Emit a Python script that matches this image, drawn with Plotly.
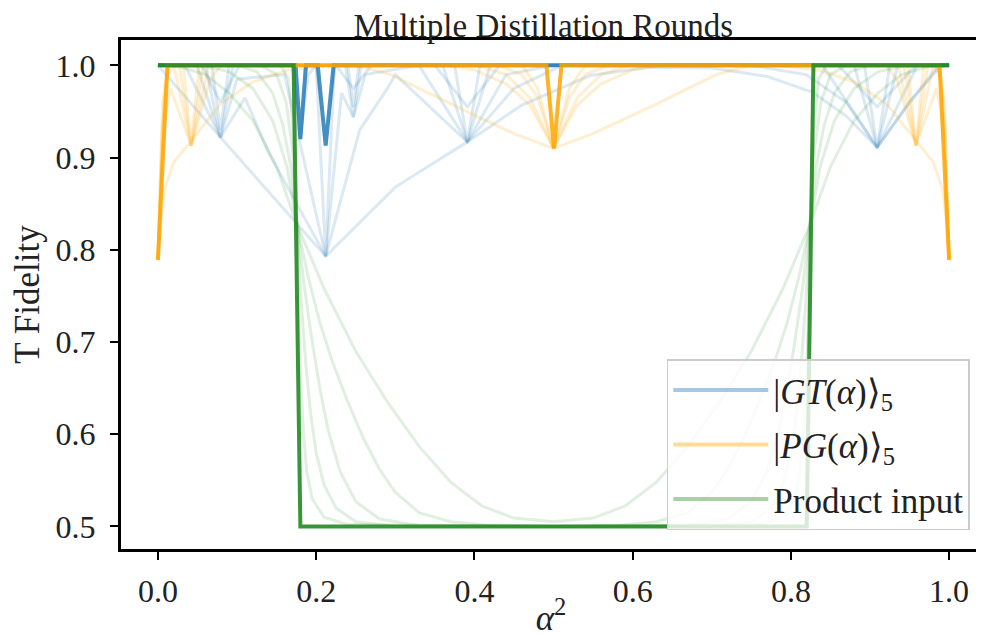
import plotly.graph_objects as go

# ---------------- data ----------------
# Product input (green), faded intermediate rounds
g1_x = [0, 0.03, 0.06, 0.09, 0.12, 0.15, 0.176, 0.21, 0.25, 0.29, 0.33, 0.37, 0.41, 0.45, 0.5,
        0.55, 0.59, 0.63, 0.67, 0.71, 0.75, 0.79, 0.824, 0.85, 0.88, 0.91, 0.94, 0.97, 1.0]
g1_y = [1.0, 0.998, 0.99, 0.97, 0.94, 0.89, 0.827, 0.758, 0.69, 0.635, 0.587, 0.548, 0.522, 0.509, 0.505,
        0.509, 0.522, 0.548, 0.587, 0.635, 0.69, 0.758, 0.827, 0.89, 0.94, 0.97, 0.99, 0.998, 1.0]
g2_x = [0, 0.06, 0.09, 0.12, 0.145, 0.163, 0.176, 0.19, 0.205, 0.22, 0.24, 0.26, 0.28, 0.30, 0.33, 0.37, 0.42, 0.5,
        0.58, 0.63, 0.67, 0.70, 0.72, 0.74, 0.76, 0.78, 0.795, 0.81, 0.824, 0.837, 0.855, 0.88, 0.91, 0.94, 1.0]
g2_y = [1.0, 0.999, 0.993, 0.975, 0.94, 0.89, 0.827, 0.77, 0.72, 0.68, 0.635, 0.595, 0.562, 0.537, 0.515, 0.505, 0.501, 0.5,
        0.501, 0.505, 0.515, 0.537, 0.562, 0.595, 0.635, 0.68, 0.72, 0.77, 0.827, 0.89, 0.94, 0.975, 0.993, 0.999, 1.0]
g3_x = [0, 0.1, 0.125, 0.145, 0.158, 0.168, 0.176, 0.185, 0.195, 0.205, 0.215, 0.23, 0.25, 0.28, 0.33, 0.5,
        0.67, 0.72, 0.75, 0.77, 0.785, 0.795, 0.805, 0.815, 0.824, 0.832, 0.842, 0.855, 0.875, 0.9, 1.0]
g3_y = [1.0, 1.0, 0.993, 0.97, 0.935, 0.89, 0.827, 0.76, 0.70, 0.648, 0.605, 0.56, 0.527, 0.508, 0.501, 0.5,
        0.501, 0.508, 0.527, 0.56, 0.605, 0.648, 0.70, 0.76, 0.827, 0.89, 0.935, 0.97, 0.993, 1.0, 1.0]
g4_x = [0, 0.13, 0.15, 0.162, 0.17, 0.176, 0.181, 0.187, 0.193, 0.2, 0.21, 0.225, 0.25, 0.3, 0.5,
        0.7, 0.75, 0.775, 0.79, 0.8, 0.807, 0.813, 0.819, 0.824, 0.83, 0.838, 0.85, 0.87, 1.0]
g4_y = [1.0, 1.0, 0.99, 0.96, 0.91, 0.827, 0.745, 0.675, 0.622, 0.58, 0.545, 0.52, 0.505, 0.5, 0.5,
        0.5, 0.505, 0.52, 0.545, 0.58, 0.622, 0.675, 0.745, 0.827, 0.91, 0.96, 0.99, 1.0, 1.0]
g5_x = [0, 0.155, 0.165, 0.171, 0.176, 0.178, 0.181, 0.184, 0.188, 0.195, 0.21, 0.24, 0.5,
        0.76, 0.79, 0.805, 0.812, 0.816, 0.819, 0.822, 0.824, 0.829, 0.835, 0.845, 1.0]
g5_y = [1.0, 1.0, 0.985, 0.93, 0.827, 0.72, 0.65, 0.6, 0.56, 0.53, 0.51, 0.502, 0.5,
        0.502, 0.51, 0.53, 0.56, 0.6, 0.65, 0.72, 0.827, 0.93, 0.985, 1.0, 1.0]
g_final_x = [0, 0.1715, 0.180, 0.820, 0.8285, 1.0]
g_final_y = [1.0, 1.0, 0.5, 0.5, 1.0, 1.0]

# |PG(alpha)>_5 (orange)
o0_x = [0, 0.004, 0.008, 0.02, 0.042, 0.079, 0.12, 0.164, 0.22, 0.26, 0.294, 0.33, 0.37, 0.41, 0.45, 0.5,
        0.55, 0.59, 0.63, 0.67, 0.706, 0.74, 0.78, 0.836, 0.88, 0.921, 0.958, 0.98, 0.992, 0.996, 1.0]
o0_y = [0.789, 0.835, 0.865, 0.895, 0.918, 0.958, 0.982, 0.995, 1.0, 0.998, 0.99, 0.975, 0.958, 0.942, 0.926, 0.91,
        0.926, 0.942, 0.958, 0.975, 0.99, 0.998, 1.0, 0.995, 0.982, 0.958, 0.918, 0.895, 0.865, 0.835, 0.789]
o1_x = [0, 0.005, 0.01, 0.016, 0.042, 0.066, 0.08, 0.3, 0.362, 0.4, 0.44, 0.47, 0.5,
        0.53, 0.56, 0.6, 0.638, 0.7, 0.92, 0.934, 0.958, 0.984, 0.99, 0.995, 1.0]
o1_y = [0.789, 0.9, 0.95, 0.975, 0.913, 0.985, 1.0, 1.0, 1.0, 0.995, 0.98, 0.957, 0.91,
        0.957, 0.98, 0.995, 1.0, 1.0, 1.0, 0.985, 0.913, 0.975, 0.95, 0.9, 0.789]
o2_x = [0, 0.005, 0.012, 0.02, 0.042, 0.064, 0.2, 0.403, 0.44, 0.47, 0.5,
        0.53, 0.56, 0.597, 0.8, 0.936, 0.958, 0.98, 0.988, 0.995, 1.0]
o2_y = [0.789, 0.93, 0.99, 1.0, 0.913, 1.0, 1.0, 1.0, 0.99, 0.965, 0.91,
        0.965, 0.99, 1.0, 1.0, 1.0, 0.913, 1.0, 0.99, 0.93, 0.789]
o3_x = [0, 0.006, 0.014, 0.027, 0.042, 0.057, 0.43, 0.46, 0.48, 0.5,
        0.52, 0.54, 0.57, 0.943, 0.958, 0.973, 0.986, 0.994, 1.0]
o3_y = [0.789, 0.96, 1.0, 1.0, 0.913, 1.0, 1.0, 0.99, 0.965, 0.91,
        0.965, 0.99, 1.0, 1.0, 0.913, 1.0, 1.0, 0.96, 0.789]
o4_x = [0, 0.008, 0.013, 0.032, 0.042, 0.052, 0.46, 0.48, 0.5, 0.52, 0.54, 0.948, 0.958, 0.968, 0.987, 0.992, 1.0]
o4_y = [0.789, 0.97, 1.0, 1.0, 0.913, 1.0, 1.0, 0.975, 0.91, 0.975, 1.0, 1.0, 0.913, 1.0, 1.0, 0.97, 0.789]
o_final_x = [0, 0.012, 0.491, 0.5006, 0.510, 0.988, 1.0]
o_final_y = [0.789, 1.0, 1.0, 0.910, 1.0, 1.0, 0.789]

# |GT(alpha)>_5 (blue)
b0_x = [0, 0.079, 0.212, 0.30, 0.391, 0.46, 0.546, 0.62, 0.70, 0.77, 0.827, 0.87, 0.909, 0.95, 0.985, 1.0]
b0_y = [1.0, 0.922, 0.793, 0.868, 0.917, 0.957, 0.989, 0.998, 0.997, 0.988, 0.971, 0.945, 0.911, 0.96, 0.998, 1.0]
b1_x = [0, 0.034, 0.079, 0.11, 0.14, 0.212, 0.255, 0.29, 0.30, 0.391, 0.45, 0.511, 0.6, 0.75, 0.819, 0.87, 0.909, 0.95, 0.99, 1.0]
b1_y = [1.0, 1.0, 0.922, 0.965, 0.905, 0.793, 0.93, 0.975, 0.99, 0.917, 0.975, 1.0, 1.0, 1.0, 0.99, 0.96, 0.911, 0.96, 1.0, 1.0]
b2_x = [0, 0.049, 0.079, 0.10, 0.16, 0.212, 0.232, 0.247, 0.262, 0.33, 0.391, 0.44, 0.5, 0.84, 0.909, 0.96, 1.0]
b2_y = [1.0, 1.0, 0.922, 0.985, 0.99, 0.793, 0.97, 0.944, 0.99, 1.0, 0.917, 0.99, 1.0, 1.0, 0.911, 1.0, 1.0]
b3_x = [0, 0.06, 0.079, 0.095, 0.17, 0.18, 0.19, 0.2, 0.212, 0.223, 0.237, 0.247, 0.257, 0.36, 0.391, 0.42, 0.88, 0.909, 0.935, 1.0]
b3_y = [1.0, 1.0, 0.922, 1.0, 1.0, 0.92, 0.99, 1.0, 0.793, 1.0, 1.0, 0.944, 1.0, 1.0, 0.917, 1.0, 1.0, 0.911, 1.0, 1.0]
b4_x = [0, 0.068, 0.079, 0.09, 0.172, 0.18, 0.188, 0.2, 0.212, 0.224, 0.24, 0.247, 0.254, 0.375, 0.391, 0.407, 0.893, 0.909, 0.925, 1.0]
b4_y = [1.0, 1.0, 0.93, 1.0, 1.0, 0.92, 1.0, 1.0, 0.913, 1.0, 1.0, 0.955, 1.0, 1.0, 0.917, 1.0, 1.0, 0.911, 1.0, 1.0]
b5_x = [0, 0.055, 0.079, 0.103, 0.225, 0.247, 0.27, 0.35, 0.391, 0.432, 0.86, 0.909, 0.958, 1.0]
b5_y = [1.0, 1.0, 0.96, 1.0, 1.0, 0.975, 1.0, 1.0, 0.955, 1.0, 1.0, 0.955, 1.0, 1.0]
b_final_x = [0, 0.174, 0.180, 0.187, 0.202, 0.212, 0.222, 1.0]
b_final_y = [1.0, 1.0, 0.92, 1.0, 1.0, 0.913, 1.0, 1.0]

x_ticks = [0.0, 0.2, 0.4, 0.6, 0.8, 1.0]
x_tick_labels = ["0.0", "0.2", "0.4", "0.6", "0.8", "1.0"]
y_ticks = [0.5, 0.6, 0.7, 0.8, 0.9, 1.0]
y_tick_labels = ["0.5", "0.6", "0.7", "0.8", "0.9", "1.0"]

legend_names = ["|<i>GT</i>(<i>α</i>)⟩<sub>5</sub>", "|<i>PG</i>(<i>α</i>)⟩<sub>5</sub>", "Product input"]

# ---------------- styling ----------------
BLUE_F = "rgba(31,119,180,0.16)"
ORANGE_F = "rgba(255,165,0,0.18)"
GREEN_F = "rgba(34,139,34,0.14)"
BLUE_S = "rgba(31,119,180,0.8)"
ORANGE_S = "rgba(255,165,0,0.85)"
GREEN_S = "rgba(34,139,34,0.9)"
FONT = "Liberation Serif"

fig = go.Figure()

def faded(xs, ys, color):
    fig.add_trace(go.Scatter(x=xs, y=ys, mode="lines", line=dict(color=color, width=3),
                             showlegend=False, hoverinfo="skip"))

for xs, ys in [(b0_x, b0_y), (b1_x, b1_y), (b2_x, b2_y), (b3_x, b3_y), (b4_x, b4_y), (b5_x, b5_y)]:
    faded(xs, ys, BLUE_F)
for xs, ys in [(o0_x, o0_y), (o1_x, o1_y), (o2_x, o2_y), (o3_x, o3_y), (o4_x, o4_y)]:
    faded(xs, ys, ORANGE_F)
for xs, ys in [(g1_x, g1_y), (g2_x, g2_y), (g3_x, g3_y), (g4_x, g4_y), (g5_x, g5_y)]:
    faded(xs, ys, GREEN_F)

fig.add_trace(go.Scatter(x=b_final_x, y=b_final_y, mode="lines",
                         line=dict(color=BLUE_S, width=4), showlegend=False))
fig.add_trace(go.Scatter(x=o_final_x, y=o_final_y, mode="lines",
                         line=dict(color=ORANGE_S, width=4), showlegend=False))
fig.add_trace(go.Scatter(x=g_final_x, y=g_final_y, mode="lines",
                         line=dict(color=GREEN_S, width=4), showlegend=False))

# legend entries
for i, (name, col) in enumerate(zip(legend_names, ["rgba(31,119,180,0.4)", "rgba(255,165,0,0.4)",
                                                   "rgba(34,139,34,0.4)"])):
    fig.add_trace(go.Scatter(x=[None], y=[None], mode="lines", name=name, legendgroup=f"g{i}",
                             line=dict(color=col, width=4)))

axis_common = dict(showline=True, linewidth=3, linecolor="black", mirror=True,
                   ticks="outside", ticklen=8, tickwidth=2, tickcolor="black",
                   showgrid=False, zeroline=False, automargin=False,
                   tickfont=dict(family=FONT, size=32, color="#222"))

# the page body adds an 8px offset, so the figure is sized to fit inside the window
fig.update_layout(
    width=976, height=630,
    margin=dict(l=113, r=3, t=32, b=89, autoexpand=False),
    paper_bgcolor="white", plot_bgcolor="white",
    title=dict(text="Multiple Distillation Rounds", x=0.491, xref="paper", xanchor="center",
               y=0.973, yref="container", yanchor="middle", automargin=False,
               font=dict(family=FONT, size=33, color="#222")),
    xaxis=dict(range=[-0.0467, 1.0403], tickvals=x_ticks, ticktext=x_tick_labels,
               ticklabelstandoff=4,
               title=dict(text="<i>α</i><sup>2</sup>", standoff=4,
                          font=dict(family=FONT, size=35, color="#222")),
               **axis_common),
    yaxis=dict(range=[0.4755, 1.0275], tickvals=y_ticks, ticktext=y_tick_labels,
               ticklabelstandoff=8,
               title=dict(text="T Fidelity", standoff=14,
                          font=dict(family=FONT, size=35, color="#222")),
               **axis_common),
    legend=dict(x=0.987, y=0.037, xanchor="right", yanchor="bottom",
                bgcolor="rgba(255,255,255,0.8)", bordercolor="#cccccc", borderwidth=1.5,
                font=dict(family=FONT, size=35, color="#222"), itemwidth=95,
                tracegroupgap=6),
)

fig.write_html("out.html")
